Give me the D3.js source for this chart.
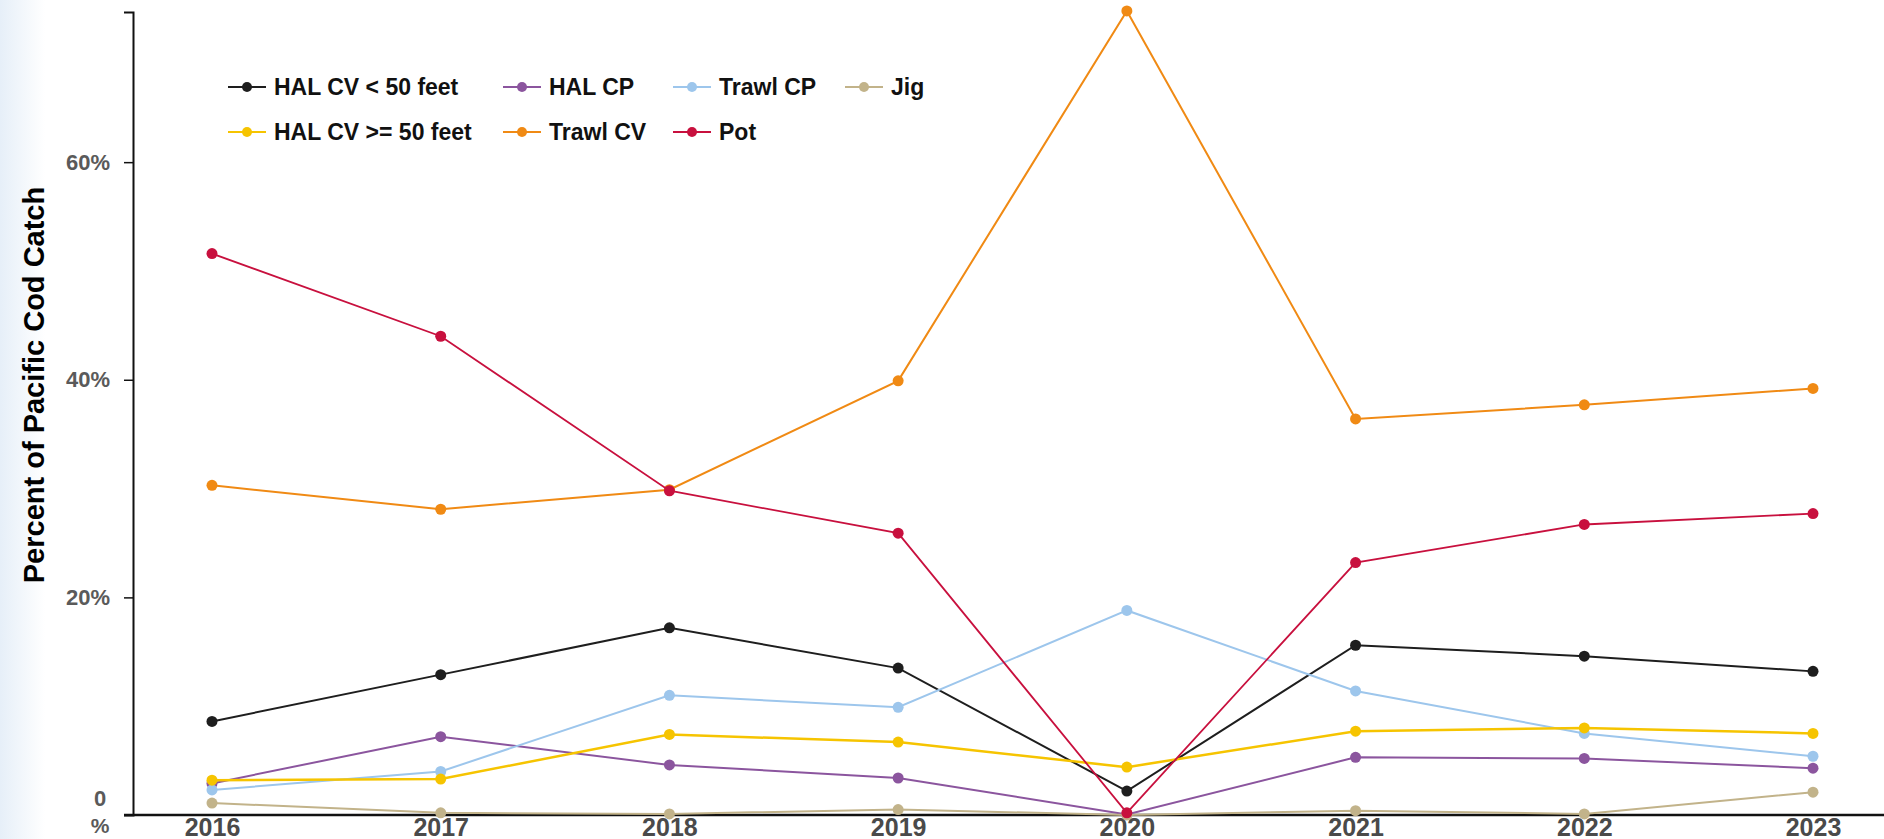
<!DOCTYPE html>
<html>
<head>
<meta charset="utf-8">
<script src="https://cdn.jsdelivr.net/npm/d3@7"></script>
<style>
  html, body { margin: 0; padding: 0; background: #fff; }
  svg { display: block; }
</style>
</head>
<body>
<div id="chart"></div>
<script>
// pacific cod catch share by gear type

// --- DATA ---
const years = ['2016', '2017', '2018', '2019', '2020', '2021', '2022', '2023'];
const seriesNames = ['HAL CV < 50 feet', 'HAL CP', 'Trawl CP', 'Jig', 'HAL CV >= 50 feet', 'Trawl CV', 'Pot'];

const halCvSmall = [8.6, 12.9, 17.2, 13.5, 2.2, 15.6, 14.6, 13.2];
const halCp      = [2.9, 7.2, 4.6, 3.4, 0.05, 5.3, 5.2, 4.3];
const trawlCp    = [2.3, 4.0, 11.0, 9.9, 18.8, 11.4, 7.5, 5.4];
const jig        = [1.1, 0.2, 0.1, 0.5, 0.0, 0.4, 0.1, 2.1];
const halCvLarge = [3.2, 3.3, 7.4, 6.7, 4.4, 7.7, 8.0, 7.5];
const trawlCv    = [30.3, 28.1, 29.9, 39.9, 73.9, 36.4, 37.7, 39.2];
const pot        = [51.6, 44.0, 29.8, 25.9, 0.2, 23.2, 26.7, 27.7];

const yTicks = [20, 40, 60];

const colors = ['#1e1e1e', '#8b559e', '#9dc6ec', '#c2b38a', '#f6c400', '#f08a14', '#c8103e'];
const widths = [2, 2, 2, 2, 2.5, 2, 1.8];

const width = 1884, height = 839;

const svg = d3.select('#chart').append('svg')
  .attr('width', width)
  .attr('height', height);

// faint blue tint along the left edge
const grad = svg.append('defs').append('linearGradient')
  .attr('id', 'edge').attr('x1', 0).attr('x2', 1);
grad.append('stop').attr('offset', 0).attr('stop-color', '#e6eff8');
grad.append('stop').attr('offset', 1).attr('stop-color', '#ffffff');
svg.append('rect').attr('x', 0).attr('y', 0).attr('width', 45).attr('height', height)
  .attr('fill', 'url(#edge)');

// --- SCALES ---
const x = d3.scalePoint().domain(years).range([212, 1813]);
const y = d3.scaleLinear().domain([0, 73.8]).range([815, 12]);

// --- AXES ---
const yAxis = svg.append('g')
  .attr('transform', 'translate(133,0)')
  .call(d3.axisLeft(y).tickValues(yTicks).tickSize(9).tickPadding(14).tickFormat(d => d + '%'));
yAxis.select('.domain').attr('stroke', '#111').attr('stroke-width', 2);
yAxis.selectAll('.tick line').attr('stroke', '#111').attr('stroke-width', 1.5);
yAxis.selectAll('.tick text')
  .attr('fill', '#5a5a5a')
  .style('font-family', "'Liberation Sans', Arial, sans-serif")
  .style('font-size', '22px')
  .style('font-weight', 'bold');

// zero label wraps into two lines
svg.append('text').attr('x', 100).attr('y', 806)
  .attr('text-anchor', 'middle').attr('fill', '#5a5a5a')
  .style('font-family', "'Liberation Sans', Arial, sans-serif")
  .style('font-size', '22px').style('font-weight', 'bold')
  .text('0');
svg.append('text').attr('x', 100).attr('y', 833)
  .attr('text-anchor', 'middle').attr('fill', '#5a5a5a')
  .style('font-family', "'Liberation Sans', Arial, sans-serif")
  .style('font-size', '21px').style('font-weight', 'bold')
  .text('%');

const xAxis = svg.append('g')
  .attr('transform', 'translate(0,815)')
  .call(d3.axisBottom(x).tickSize(0).tickPadding(3));
xAxis.select('.domain').remove();
xAxis.selectAll('.tick text')
  .attr('fill', '#4a4a4a')
  .attr('dy', '0.72em')
  .style('font-family', "'Liberation Sans Narrow', 'Arial Narrow', 'Liberation Sans', sans-serif")
  .style('font-size', '25px')
  .style('font-weight', 'bold');

svg.append('line')
  .attr('x1', 124).attr('x2', width)
  .attr('y1', y(0)).attr('y2', y(0))
  .attr('stroke', '#111').attr('stroke-width', 2.5);

// y title
svg.append('text')
  .attr('transform', 'translate(34,385) rotate(-90)')
  .attr('text-anchor', 'middle')
  .attr('dy', '0.36em')
  .attr('fill', '#000')
  .style('font-family', "'Liberation Sans', Arial, sans-serif")
  .style('font-size', '29px')
  .style('font-weight', 'bold')
  .text('Percent of Pacific Cod Catch');

// --- LINES ---
const allSeries = [halCvSmall, halCp, trawlCp, jig, halCvLarge, trawlCv, pot];
const line = d3.line().x((d, i) => x(years[i])).y(d => y(d));

allSeries.forEach((vals, s) => {
  const g = svg.append('g');
  g.append('path')
    .attr('d', line(vals))
    .attr('fill', 'none')
    .attr('stroke', colors[s])
    .attr('stroke-width', widths[s]);
  g.selectAll('circle')
    .data(vals)
    .enter().append('circle')
      .attr('cx', (d, i) => x(years[i]))
      .attr('cy', d => y(d))
      .attr('r', 5.5)
      .attr('fill', colors[s]);
});

// --- LEGEND ---
const legCols = [228, 503, 673, 845];
const legRows = [87, 132];
const legPos = [[0, 0], [1, 0], [2, 0], [3, 0], [0, 1], [1, 1], [2, 1]];

seriesNames.forEach((name, s) => {
  const lx = legCols[legPos[s][0]], ly = legRows[legPos[s][1]];
  const g = svg.append('g').attr('transform', `translate(${lx},${ly})`);
  g.append('line').attr('x1', 0).attr('x2', 38).attr('y1', 0).attr('y2', 0)
    .attr('stroke', colors[s]).attr('stroke-width', 2);
  g.append('circle').attr('cx', 19).attr('cy', 0).attr('r', 5).attr('fill', colors[s]);
  g.append('text').attr('x', 46).attr('y', 0).attr('dy', '0.36em')
    .attr('fill', '#111')
    .style('font-family', "'Liberation Sans', Arial, sans-serif")
    .style('font-size', '23px')
    .style('font-weight', 'bold')
    .text(name);
});
</script>
</body>
</html>
